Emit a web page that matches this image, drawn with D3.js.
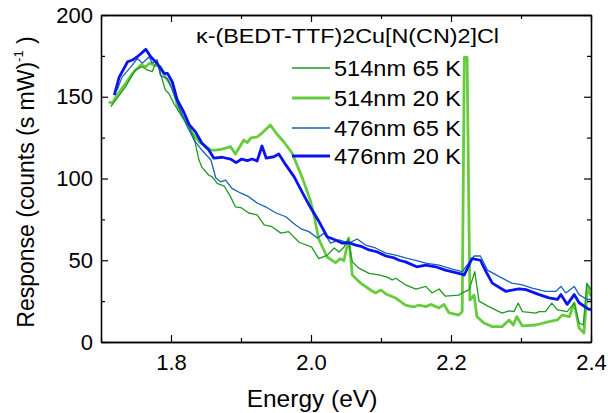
<!DOCTYPE html>
<html><head><meta charset="utf-8">
<script src="https://cdn.jsdelivr.net/npm/d3@7"></script>
<style>body{margin:0;background:#fff}text{font-family:"Liberation Sans",Arial,sans-serif;fill:#000}</style>
</head><body><svg id="c" width="608" height="413"></svg>
<script>
const title = "κ-(BEDT-TTF)2Cu[N(CN)2]Cl";
const seriesNames = ["514nm 65 K","514nm 20 K","476nm 65 K","476nm 20 K"];
const xTicks = [1.8,2.0,2.2,2.4];
const xMinor = [1.7,1.9,2.1,2.3];
const yTicks = [0,50,100,150,200];
const yMinor = [25,75,125,175];

const g65E = [1.714,1.721,1.735,1.749,1.759,1.766,1.773,1.78,1.785,1.792,1.797,1.804,1.816,1.826,1.833,1.84,1.844,1.854,1.859,1.866,1.876,1.885,1.892,1.901,1.911,1.923,1.933,1.944,1.957,1.968,1.983,2.001,2.011,2.023,2.033,2.04,2.047,2.053,2.059,2.069,2.083,2.097,2.109,2.116,2.121,2.135,2.15,2.164,2.173,2.183,2.192,2.211,2.216,2.226,2.234,2.24,2.254,2.273,2.283,2.29,2.296,2.302,2.321,2.326,2.335,2.344,2.352,2.366,2.376,2.383,2.389,2.394,2.4];
const g65V = [144,148,156,166.4,168.4,166.4,165.3,172.5,164.3,154,152,146,137.8,131.7,124.8,111.3,107,102,101,97,95.4,88.9,82.7,82,78.9,77.7,71.6,70.5,66.6,67.5,61,58,51,53,57.5,55,58,63,49,45,42,41,39.7,38,39,35,32.4,34,30,32.4,28,28.7,30,32,43,25,21.6,17.7,19,18.6,23.8,18.6,17.7,18.6,18.6,23.8,19.6,18.6,23.8,11.6,10.4,36,32];

const g20E = [1.711,1.716,1.723,1.735,1.745,1.757,1.764,1.769,1.776,1.785,1.792,1.802,1.811,1.83,1.84,1.847,1.857,1.864,1.873,1.885,1.892,1.904,1.909,1.914,1.923,1.93,1.942,1.95,1.961,1.973,1.987,1.999,2.005,2.011,2.023,2.035,2.042,2.047,2.054,2.059,2.071,2.085,2.092,2.1,2.107,2.121,2.135,2.147,2.154,2.164,2.171,2.183,2.19,2.197,2.211,2.216,2.219,2.223,2.227,2.233,2.237,2.247,2.259,2.273,2.283,2.289,2.294,2.302,2.321,2.34,2.352,2.359,2.369,2.376,2.383,2.39,2.395,2.4];
const g20V = [147,146,151,158,164.3,169.4,168.4,170.5,169.4,168.4,162,156,142,128,122.5,120.5,117.4,117.4,118,119.5,115,123.5,122,124.8,125.4,127.8,132.7,127.8,122.5,115.6,101,86.8,76,63,52,48.5,51,49.7,63.6,41,36,31.8,30,31.8,29.4,26.9,22.6,21.4,22.6,21.6,23,20.8,23,17.9,16.5,18.5,174,174,25.7,28.7,15.5,11.6,9.4,9.4,13.5,10.4,15.5,9.8,10.4,12.4,13.5,16.5,15.5,23.8,8.6,5.5,34,28];

const b65E = [1.723,1.73,1.742,1.752,1.759,1.769,1.773,1.78,1.785,1.795,1.802,1.811,1.823,1.833,1.844,1.857,1.864,1.871,1.878,1.887,1.9,1.911,1.923,1.935,1.95,1.964,1.978,1.987,1.997,2.009,2.019,2.028,2.04,2.054,2.066,2.078,2.092,2.107,2.121,2.135,2.151,2.164,2.183,2.202,2.216,2.233,2.242,2.252,2.269,2.287,2.302,2.316,2.335,2.35,2.357,2.364,2.376,2.383,2.394,2.4];
const b65V = [154,162,168,173.4,170.5,174.5,170.5,172.5,163,161,154,144,132,123.5,117.4,111.3,100.3,98,99,94,91,88.9,85,82.7,78.9,76.6,71.6,69,67.5,63.6,66.6,60.5,62.4,60.5,63,59.3,57.5,54.4,53.2,51.4,49.7,48.3,47,44.5,43,52.6,52.6,44,40,36,35,33,31,31,34,30,34,29,26,26];

const b20E = [1.719,1.726,1.738,1.745,1.752,1.764,1.771,1.78,1.79,1.795,1.802,1.809,1.819,1.826,1.835,1.844,1.854,1.861,1.873,1.885,1.893,1.901,1.909,1.916,1.923,1.93,1.936,1.947,1.954,1.964,1.976,1.987,1.997,2.011,2.023,2.035,2.044,2.054,2.064,2.073,2.083,2.094,2.107,2.119,2.126,2.135,2.151,2.164,2.178,2.192,2.211,2.219,2.23,2.242,2.25,2.259,2.278,2.297,2.307,2.326,2.34,2.352,2.357,2.366,2.376,2.383,2.397,2.4];
const b20V = [151,162,171.4,172.5,174.5,179,174.5,170.5,164.3,164.3,159,148,139.9,133,128.5,121.7,117.4,112.5,113,111.9,109.7,111.9,110.9,111.9,110.7,119.9,112.5,113.3,115,108.3,101,92,84,74,64.4,62.4,60.5,60.7,59.3,58.3,56.3,55.2,52.6,51.4,50,49,46,47,46,44,42,41,51,50,43,36,31,32.5,32,29,27,26,29,23,29,24,20,20];

const series = [
  {name: seriesNames[0], E: g65E, V: g65V, color: "#1f9a1f", w: 1.3},
  {name: seriesNames[1], E: g20E, V: g20V, color: "#66cc3d", w: 2.8},
  {name: seriesNames[2], E: b65E, V: b65V, color: "#1a62b5", w: 1.3},
  {name: seriesNames[3], E: b20E, V: b20V, color: "#0a14f0", w: 2.8}
];

const svg = d3.select("#c");
const L = 101, R = 591, T = 15, B = 342;
const x = d3.scaleLinear().domain([1.7, 2.4]).range([L, R]);
const y = d3.scaleLinear().domain([0, 200]).range([B, T]);

svg.append("clipPath").attr("id","clp").append("rect")
  .attr("x", L).attr("y", T).attr("width", R-L).attr("height", B-T);

const line = d3.line().x(d => x(d[0])).y(d => y(d[1]));
const plot = svg.append("g").attr("clip-path","url(#clp)");
[1,0,2,3].forEach(i => {
  const s = series[i];
  plot.append("path").datum(s.E.map((e,k)=>[e, s.V[k]]))
    .attr("d", line).attr("fill","none").attr("stroke", s.color)
    .attr("stroke-width", s.w).attr("stroke-linejoin","round");
});

const ax = (gen, tr) => svg.append("g").attr("transform", tr).call(gen)
  .call(g => g.select(".domain").attr("stroke","#000").attr("stroke-width",1.3))
  .call(g => g.selectAll(".tick line").attr("stroke","#000").attr("stroke-width",1.2));
const fmtX = d3.format(".1f");
ax(d3.axisBottom(x).tickValues(xTicks).tickSize(-7).tickSizeOuter(0).tickPadding(12).tickFormat(fmtX), `translate(0,${B})`);
ax(d3.axisBottom(x).tickValues(xMinor).tickSize(-4).tickSizeOuter(0).tickFormat(""), `translate(0,${B})`);
ax(d3.axisTop(x).tickValues(xTicks).tickSize(-7).tickSizeOuter(0).tickFormat(""), `translate(0,${T})`);
ax(d3.axisTop(x).tickValues(xMinor).tickSize(-4).tickSizeOuter(0).tickFormat(""), `translate(0,${T})`);
ax(d3.axisLeft(y).tickValues(yTicks).tickSize(-7).tickSizeOuter(0).tickPadding(8), `translate(${L},0)`);
ax(d3.axisLeft(y).tickValues(yMinor).tickSize(-4).tickSizeOuter(0).tickFormat(""), `translate(${L},0)`);
ax(d3.axisRight(y).tickValues(yTicks).tickSize(-7).tickSizeOuter(0).tickFormat(""), `translate(${R},0)`);
ax(d3.axisRight(y).tickValues(yMinor).tickSize(-4).tickSizeOuter(0).tickFormat(""), `translate(${R},0)`);
svg.selectAll(".tick text").attr("font-size", 22).attr("font-family","Liberation Sans, Arial, sans-serif").attr("fill","#000");

svg.append("text").attr("x", 312).attr("y", 407).attr("text-anchor","middle")
  .attr("font-size", 24.5).text("Energy (eV)");
const yl = svg.append("text").attr("transform","translate(34,182) rotate(-90)")
  .attr("text-anchor","middle").attr("font-size", 23);
yl.append("tspan").text("Response (counts (s mW)");
yl.append("tspan").attr("font-size", 13).attr("dy", -11).text("-1");
yl.append("tspan").attr("dy", 11).text(" )");

svg.append("text").attr("x", 347.5).attr("y", 43).attr("text-anchor","middle")
  .attr("font-size", 21).attr("textLength", 303).attr("lengthAdjust","spacingAndGlyphs").text(title);

const legY = [68, 98, 128, 156];
series.forEach((s,i) => {
  svg.append("line").attr("x1", 292).attr("x2", 330).attr("y1", legY[i]).attr("y2", legY[i])
    .attr("stroke", s.color).attr("stroke-width", s.w);
  svg.append("text").attr("x", 334).attr("y", legY[i] + 8).attr("font-size", 22.5)
    .attr("textLength", 127).attr("lengthAdjust","spacingAndGlyphs").text(s.name);
});
</script></body></html>
